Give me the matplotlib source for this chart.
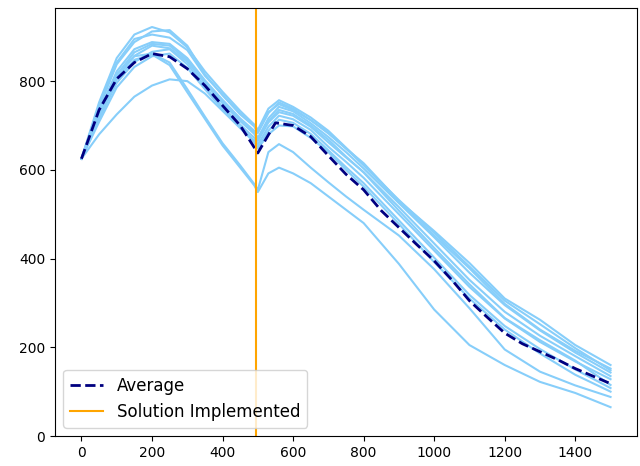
import numpy as np
import matplotlib
matplotlib.use('Agg')
import matplotlib.pyplot as plt

run_x = [0, 50, 100, 150, 200, 250, 300, 350, 400, 450, 490, 500, 530, 560,
         600, 650, 700, 750, 800, 900, 1000, 1100, 1200, 1300, 1400, 1500]

# individual simulation runs
run_u1 = [625, 752, 852, 905, 922, 910, 876, 822, 776, 733, 702, 690, 738, 757, 742, 718, 688, 650, 612, 528, 452, 378, 298, 240, 192, 152]
run_u2 = [625, 740, 838, 888, 912, 915, 880, 815, 768, 725, 698, 683, 728, 752, 738, 712, 682, 648, 615, 530, 462, 390, 310, 262, 205, 160]
run_u3 = [625, 732, 822, 872, 888, 884, 852, 802, 758, 716, 688, 672, 716, 742, 732, 705, 674, 640, 603, 525, 448, 368, 295, 238, 188, 143]
run_u4 = [625, 722, 808, 857, 880, 874, 844, 795, 750, 710, 681, 665, 707, 730, 722, 697, 662, 628, 595, 516, 434, 352, 280, 226, 180, 135]
run_u5 = [625, 715, 796, 843, 866, 872, 838, 788, 742, 702, 672, 657, 697, 722, 714, 690, 652, 618, 582, 500, 418, 336, 265, 212, 168, 128]
run_u6 = [625, 708, 786, 832, 856, 862, 830, 782, 737, 697, 665, 650, 688, 713, 706, 681, 644, 606, 570, 486, 402, 318, 248, 196, 150, 108]
run_u7 = [625, 745, 842, 895, 905, 898, 870, 812, 770, 728, 700, 686, 730, 748, 735, 712, 684, 648, 610, 532, 458, 382, 305, 252, 198, 148]
run_u8 = [625, 725, 814, 865, 884, 880, 848, 798, 754, 712, 684, 668, 710, 735, 726, 700, 668, 630, 594, 508, 424, 342, 266, 216, 170, 115]
run_s = [625, 680, 725, 765, 790, 804, 800, 772, 733, 694, 662, 648, 680, 700, 698, 672, 640, 600, 562, 478, 392, 310, 240, 186, 138, 100]
run_l1 = [625, 718, 804, 848, 860, 836, 775, 715, 655, 605, 565, 550, 592, 605, 592, 570, 540, 510, 480, 388, 285, 205, 160, 122, 97, 65]
run_l2 = [625, 726, 816, 856, 862, 842, 782, 720, 660, 610, 568, 555, 640, 658, 640, 605, 572, 540, 510, 452, 376, 288, 195, 145, 114, 88]

runs = [run_u1, run_u2, run_u3, run_u4, run_u5, run_u6, run_u7, run_u8,
        run_s, run_l1, run_l2]

# average curve
avg_x = [0, 50, 100, 150, 200, 250, 300, 350, 400, 450, 500, 550, 600, 650,
         700, 750, 800, 850, 900, 950, 1000, 1050, 1100, 1150, 1200, 1250,
         1300, 1350, 1400, 1450, 1500]
avg_y = [625, 735, 805, 842, 862, 855, 828, 790, 745, 700, 638, 706, 700, 675,
         632, 590, 555, 508, 470, 432, 395, 352, 305, 268, 232, 208,
         190, 172, 152, 135, 118]

solution_day = 495

fig = plt.figure(figsize=(6.4, 4.66), dpi=100)
ax = fig.add_axes([55 / 640, 30 / 466, 582 / 640, 428 / 466])

for run in runs:
    ax.plot(run_x, run, color='lightskyblue', linewidth=1.5)

ax.plot(avg_x, avg_y, color='navy', linestyle='--', linewidth=2, label='Average')
ax.axvline(solution_day, color='orange', linewidth=1.5, label='Solution Implemented')

ax.set_ylim(bottom=0)
ax.legend(loc='lower left', fontsize=12)

plt.savefig('out.png', dpi=100)
